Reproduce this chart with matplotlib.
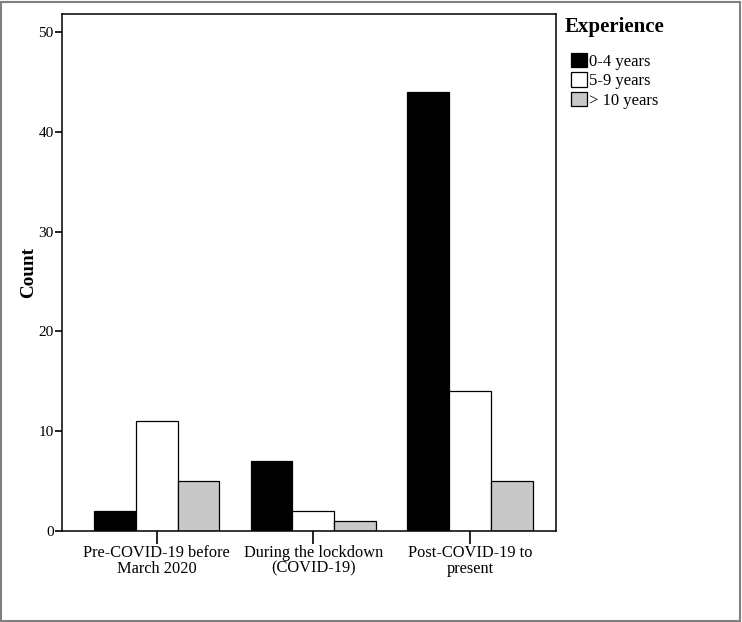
import numpy as np
import matplotlib.pyplot as plt
from matplotlib.patches import Rectangle

plt.rcParams['font.family'] = ['Liberation Serif', 'DejaVu Serif']

periods = ["Pre-COVID-19 before\nMarch 2020", "During the lockdown\n(COVID-19)", "Post-COVID-19 to\npresent"]
experience = ["0-4 years", "5-9 years", "> 10 years"]
counts_0_4 = [2, 7, 44]
counts_5_9 = [11, 2, 14]
counts_10 = [5, 1, 5]
colors = ["#000000", "#ffffff", "#c8c8c8"]

W, H = 742, 622
fig = plt.figure(figsize=(W / 100, H / 100), dpi=100)
ax = fig.add_axes([62 / W, (H - 531) / H, 494 / W, 517 / H])

x = np.arange(len(periods))
bw = 0.267
series = [counts_0_4, counts_5_9, counts_10]
for i, vals in enumerate(series):
    ax.bar(x + (i - 1) * bw, vals, bw, color=colors[i], edgecolor="black",
           linewidth=0.9, label=experience[i])

ax.set_xlim(-0.605, 2.55)
ax.set_ylim(0, 51.8)
ax.set_yticks([0, 10, 20, 30, 40, 50])
ax.set_xticks(x)
ax.set_xticklabels(periods, fontsize=11.8, linespacing=1.0)
ax.tick_params(axis="y", labelsize=11, direction="out", length=5, width=1.2, pad=1)
ax.tick_params(axis="x", direction="out", length=9, width=1.2, pad=1)
for s in ax.spines.values():
    s.set_linewidth(1.1)
ax.set_ylabel("Count", fontsize=13.8, fontweight="bold")
ax.yaxis.set_label_coords(-(62 - 37) / 494, 0.5)

# legend title drawn separately so the entries can sit indented
fig.text(565 / W, 1 - 27 / H, "Experience", fontsize=15, fontweight="bold",
         ha="left", va="center")
leg = ax.legend(loc="upper left", bbox_to_anchor=(571 / W, 1 - 53 / H),
                bbox_transform=fig.transFigure, frameon=False, fontsize=12,
                handlelength=0.95, handleheight=0.95,
                handletextpad=0.15, labelspacing=0.15, borderaxespad=0, borderpad=0)

fig.patches.append(Rectangle((1 / W, 1 / H), 1 - 3 / W, 1 - 3 / H, transform=fig.transFigure,
                             fill=False, edgecolor="#808080", linewidth=1.5))

fig.savefig("out.png", dpi=100)
